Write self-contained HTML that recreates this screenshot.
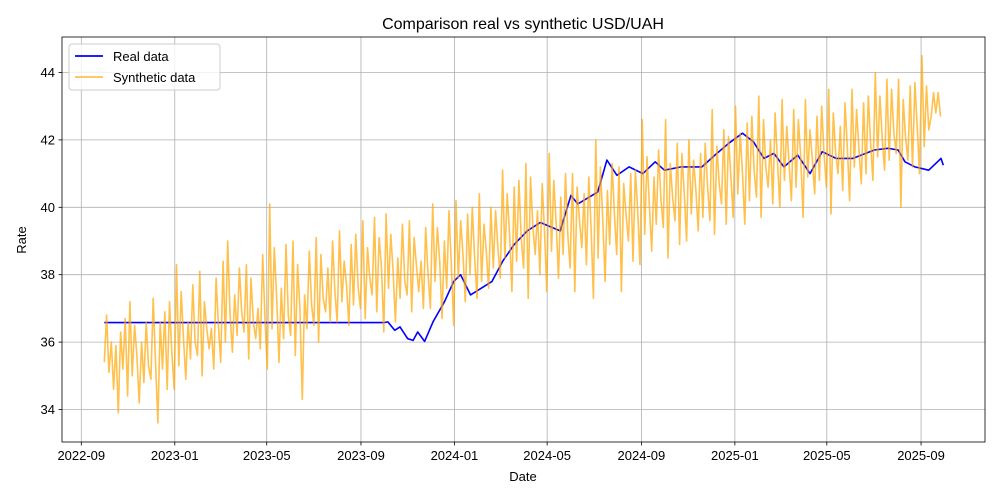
<!DOCTYPE html>
<html><head><meta charset="utf-8"><style>
body{margin:0;background:#fff}
svg{display:block;font-family:"Liberation Sans","DejaVu Sans",sans-serif}
</style></head><body>
<svg id="chart" width="1000" height="500">
<rect x="0" y="0" width="1000" height="500" fill="#fff"/>
<g id="grid"></g><g id="series"></g><g id="axes"></g>
</svg>
<script>
const xTickLabels=["2022-09","2023-01","2023-05","2023-09","2024-01","2024-05","2024-09","2025-01","2025-05","2025-09"];
const yTickValues=[34,36,38,40,42,44];
const realDates=["2022-10-01","2023-10-01","2023-10-06","2023-10-15","2023-10-22","2023-11-01","2023-11-08","2023-11-14","2023-11-23","2023-12-04","2023-12-19","2023-12-31","2024-01-09","2024-01-22","2024-02-05","2024-02-19","2024-03-04","2024-03-19","2024-04-05","2024-04-22","2024-05-18","2024-06-01","2024-06-10","2024-07-06","2024-07-18","2024-07-31","2024-08-16","2024-09-03","2024-09-19","2024-10-01","2024-10-23","2024-11-19","2024-12-06","2024-12-24","2025-01-11","2025-01-25","2025-02-08","2025-02-21","2025-03-06","2025-03-24","2025-04-09","2025-04-25","2025-05-13","2025-06-04","2025-07-02","2025-07-20","2025-08-02","2025-08-11","2025-08-24","2025-09-11","2025-09-27","2025-09-30"];
const realValues=[36.58,36.58,36.6,36.35,36.45,36.1,36.05,36.3,36.02,36.6,37.2,37.8,38.0,37.4,37.6,37.8,38.4,38.9,39.3,39.55,39.3,40.35,40.1,40.45,41.4,40.95,41.2,41.0,41.35,41.1,41.2,41.2,41.55,41.9,42.2,41.95,41.45,41.6,41.2,41.55,41.0,41.65,41.45,41.45,41.7,41.75,41.7,41.35,41.2,41.1,41.45,41.25];
const synthStart="2022-10-01";
const synthStepDays=3.04;
const synthValues=[
35.4,36.8,35.1,36.0,34.6,35.9,33.9,36.3,35.2,36.7,
34.4,37.2,35.0,36.5,35.6,34.2,36.0,34.8,36.6,35.3,
34.9,37.3,35.4,33.6,36.6,35.2,36.9,34.6,37.2,35.7,
34.6,38.3,35.3,37.5,36.1,34.9,36.6,35.5,37.7,36.0,
35.6,38.1,35.0,37.2,36.4,35.8,36.4,35.2,37.9,36.5,
35.4,38.4,36.0,39.0,36.8,35.7,37.4,36.2,38.2,36.9,
36.3,38.3,35.5,37.9,36.6,36.1,37.0,35.8,38.6,36.7,
35.2,40.1,36.4,38.8,37.3,35.4,37.6,36.1,38.9,36.8,
36.2,39.0,35.6,38.3,37.0,34.3,37.4,36.4,38.7,37.1,
36.5,39.1,36.0,38.6,37.3,36.9,38.2,36.6,39.0,37.5,
36.6,39.3,37.2,38.4,37.7,36.5,38.9,37.1,39.2,37.6,
37.0,39.6,36.7,38.8,37.9,37.4,39.7,36.9,39.1,38.2,
36.3,39.8,37.6,39.2,38.1,36.6,38.5,37.3,39.5,37.8,
37.4,39.6,36.9,39.1,38.3,37.5,38.4,37.0,39.4,38.0,
37.0,40.1,37.8,39.4,38.4,36.7,39.0,37.6,39.9,38.3,
36.5,40.2,37.9,39.6,38.6,37.2,39.8,38.0,40.0,38.5,
37.3,40.4,37.8,39.5,38.7,37.6,40.0,38.2,39.9,38.8,
37.9,41.1,38.5,40.4,39.2,37.5,40.6,38.4,40.8,39.1,
38.2,41.3,37.3,40.9,39.4,38.6,39.9,38.0,40.7,39.3,
37.5,41.6,38.7,40.8,39.5,37.9,40.3,38.6,41.0,39.2,
38.2,41.0,37.5,40.6,39.6,38.8,40.4,38.3,40.9,39.4,
37.3,42.0,38.5,41.2,39.7,37.8,40.5,38.9,41.3,39.8,
38.6,41.2,37.5,40.7,39.8,39.0,41.0,38.4,41.1,39.9,
38.3,42.6,39.2,41.5,40.1,38.7,40.9,39.5,41.7,40.2,
39.4,42.6,38.5,41.3,40.3,39.6,41.9,38.9,41.6,40.4,
39.0,42.0,39.8,41.4,40.5,39.3,41.6,39.7,41.9,40.6,
39.6,42.9,39.2,41.8,40.7,40.1,42.3,39.5,42.1,40.9,
39.7,43.0,40.4,42.2,41.0,39.5,42.5,40.2,42.7,41.1,
40.3,43.3,39.7,42.6,41.2,40.6,42.0,40.1,42.8,41.4,
40.0,43.2,40.8,42.4,41.3,40.2,42.9,40.6,42.6,41.5,
39.7,43.2,40.9,42.3,41.4,40.4,42.7,40.8,43.0,41.6,
40.6,43.5,39.8,42.8,41.6,41.0,42.4,40.5,43.1,41.8,
40.2,43.5,41.2,42.9,41.7,40.7,43.1,41.0,43.3,41.9,
40.8,44.0,41.5,43.3,42.0,41.1,43.8,41.4,43.5,42.2,
41.6,43.8,40.0,43.2,42.1,41.4,43.6,41.2,43.7,42.4,
41.0,44.5,41.8,43.6,42.3,42.7,43.4,42.8,43.4,42.7];

const NS="http://www.w3.org/2000/svg";
const L=62,R=985,T=37,B=442;
const day0=Date.UTC(2022,8,1);
function dayOf(s){const p=s.split('-').map(Number);return (Date.UTC(p[0],p[1]-1,p[2]||1)-day0)/86400000;}
function xs(d){return 81.3+d*0.7662;}
function ys(v){return 207.3-(v-40)*33.7;}
function mk(tag,attrs,parent){const e=document.createElementNS(NS,tag);for(const k in attrs)e.setAttribute(k,attrs[k]);parent.appendChild(e);return e;}
const grid=document.getElementById('grid'),series=document.getElementById('series'),axes=document.getElementById('axes');

xTickLabels.forEach(t=>{
  const x=xs(dayOf(t));
  const g=mk('line',{x1:x,x2:x,y1:T,y2:B,stroke:'#b0b0b0','stroke-width':0.8},grid);
  
  
  const tk=mk('line',{x1:x,x2:x,y1:B,y2:B+3.5,stroke:'#000','stroke-width':0.8},axes);
  
  
  const tx=mk('text',{x:x,y:B+18,'text-anchor':'middle','font-size':13},axes);
  tx.textContent=t;
  
  
});
yTickValues.forEach(v=>{
  const y=ys(v);
  const g=mk('line',{x1:L,x2:R,y1:y,y2:y,stroke:'#b0b0b0','stroke-width':0.8},grid);
  
  
  const tk=mk('line',{x1:L-3.5,x2:L,y1:y,y2:y,stroke:'#000','stroke-width':0.8},axes);
  
  
  const tx=mk('text',{x:L-7,y:y+4.5,'text-anchor':'end','font-size':13},axes);
  tx.textContent=String(v);
  
  
});

let rp=realDates.map((d,i)=>xs(dayOf(d)).toFixed(1)+','+ys(realValues[i]).toFixed(1)).join(' ');
const rl=mk('polyline',{points:rp,fill:'none',stroke:'#0000ff','stroke-width':1.6,'stroke-linejoin':'round'},series);


const sd=dayOf(synthStart);
let sp=synthValues.map((v,i)=>xs(sd+i*synthStepDays).toFixed(1)+','+ys(v).toFixed(1)).join(' ');
const sl=mk('polyline',{points:sp,fill:'none',stroke:'#ffa500','stroke-opacity':0.7,'stroke-width':1.6,'stroke-linejoin':'round'},series);



const fr=mk('rect',{x:L,y:T,width:R-L,height:B-T,fill:'none',stroke:'#000','stroke-width':0.8},axes);


const ti=mk('text',{x:523,y:29,'text-anchor':'middle','font-size':16},axes);
ti.textContent='Comparison real vs synthetic USD/UAH';


const xl=mk('text',{x:523,y:481,'text-anchor':'middle','font-size':13},axes);
xl.textContent='Date';


const yl=mk('text',{x:0,y:0,'text-anchor':'middle','font-size':13,transform:'translate(26,240) rotate(-90)'},axes);
yl.textContent='Rate';



const lg=mk('g',{},axes);


mk('rect',{x:69,y:44,width:151,height:46,rx:3,fill:'#fff','fill-opacity':0.8,stroke:'#ccc','stroke-width':1},lg);
const e1=mk('line',{x1:75,x2:103,y1:56,y2:56,stroke:'#0000ff','stroke-width':1.8},lg);


const t1=mk('text',{x:113,y:61,'font-size':13},lg);
t1.textContent='Real data';


const e2=mk('line',{x1:75,x2:103,y1:77,y2:77,stroke:'#ffa500','stroke-opacity':0.7,'stroke-width':1.8},lg);


const t2=mk('text',{x:113,y:82,'font-size':13},lg);
t2.textContent='Synthetic data';


</script>
</body></html>
